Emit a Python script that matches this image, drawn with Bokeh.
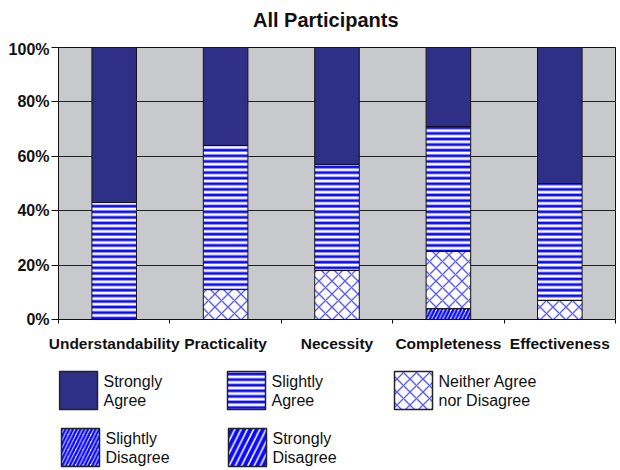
from bokeh.plotting import figure
from bokeh.models import (ColumnDataSource, FixedTicker, NumeralTickFormatter,
                          Range1d, Div)
from bokeh.layouts import column
from bokeh.transform import stack
from bokeh.core.properties import value
from bokeh.embed import file_html
from bokeh.resources import INLINE

# ---- data ----
title_text = "All Participants"
categories = ["Understandability", "Practicality", "Necessity",
              "Completeness", "Effectiveness"]
series_names = ["Strongly Disagree", "Slightly Disagree",
                "Neither Agree nor Disagree", "Slightly Agree", "Strongly Agree"]
strongly_disagree = [0, 0, 0, 0, 0]
slightly_disagree = [0, 0, 0, 4, 0]
neither = [0, 11, 18, 21, 7]
slightly_agree = [43, 53, 39, 46, 43]
strongly_agree = [57, 36, 43, 29, 50]
y_ticks = [0, 0.2, 0.4, 0.6, 0.8, 1.0]
legend_labels = ["Strongly\nAgree", "Slightly\nAgree", "Neither Agree\nnor Disagree",
                 "Slightly\nDisagree", "Strongly\nDisagree"]

FONT = "Liberation Sans"
BLUE = "#0A0AFF"

styles = {
    "Strongly Disagree": dict(fill_color="white", hatch_pattern="right_diagonal_line",
                              hatch_color=BLUE, hatch_scale=12.5, hatch_weight=4),
    "Slightly Disagree": dict(fill_color="white", hatch_pattern="right_diagonal_line",
                              hatch_color=BLUE, hatch_scale=7.5, hatch_weight=2.5),
    "Neither Agree nor Disagree": dict(fill_color="white", hatch_pattern="diagonal_cross",
                                       hatch_color="#5A5AFF", hatch_scale=13, hatch_weight=1.4),
    "Slightly Agree": dict(fill_color="white", hatch_pattern="horizontal_line",
                           hatch_color=BLUE, hatch_scale=5.6, hatch_weight=2.8),
    "Strongly Agree": dict(fill_color="#2E3087"),
}

series = [strongly_disagree, slightly_disagree, neither, slightly_agree, strongly_agree]
keys = ["s%d" % i for i in range(len(series))]
data = {"x": [i + 0.5 for i in range(len(categories))]}
for k, vals in zip(keys, series):
    data[k] = [v / 100 for v in vals]
src = ColumnDataSource(data)

W = 620
BL, BR = 58, 5          # frame borders (left/right)
TITLE_H = 40
H_MAIN = 359 - TITLE_H

title_div = Div(text=title_text, width=W - 253, height=TITLE_H, margin=(0, 0, 0, 253),
                styles={"font-family": FONT, "font-size": "20px", "font-weight": "bold",
                        "line-height": "40px", "color": "#111111", "white-space": "nowrap"})

p = figure(width=W, height=H_MAIN, output_backend="svg", toolbar_location=None,
           x_range=Range1d(0, len(categories)), y_range=Range1d(0, 1),
           min_border_left=BL, min_border_right=BR, min_border_top=47 - TITLE_H,
           min_border_bottom=40, background_fill_color="#C8C9CC",
           border_fill_color="white")

for i, (k, name) in enumerate(zip(keys, series_names)):
    bottom = stack(*keys[:i]) if i else 0
    p.vbar(x="x", width=0.4, bottom=bottom, top=stack(*keys[:i + 1]), source=src,
           line_color="#111111", line_width=1, **styles[name])

p.outline_line_color = "#111111"
p.outline_line_width = 1
p.xgrid.grid_line_color = None
p.ygrid.grid_line_color = "#222222"
p.ygrid.ticker = FixedTicker(ticks=y_ticks)

ya = p.yaxis[0]
ya.ticker = FixedTicker(ticks=y_ticks)
ya.formatter = NumeralTickFormatter(format="0%")
ya.major_label_text_font = FONT
ya.major_label_text_font_size = "16px"
ya.major_label_text_font_style = "bold"
ya.major_label_text_color = "#111111"
ya.major_tick_out = 7
ya.major_tick_in = 0
ya.minor_tick_line_color = None
ya.axis_line_color = "#111111"
ya.major_tick_line_color = "#111111"
ya.major_label_standoff = 2

xa = p.xaxis[0]
xa.ticker = FixedTicker(ticks=data["x"], minor_ticks=list(range(len(categories) + 1)))
xa.major_label_overrides = {x: c for x, c in zip(data["x"], categories)}
xa.major_label_text_font = FONT
xa.major_label_text_font_size = "15.5px"
xa.major_label_text_font_style = "bold"
xa.major_label_text_color = "#111111"
xa.major_tick_line_color = None
xa.major_tick_out = 0
xa.major_tick_in = 0
xa.minor_tick_out = 4
xa.minor_tick_in = 0
xa.minor_tick_line_color = "#111111"
xa.axis_line_color = "#111111"
xa.major_label_standoff = 11

# ---- legend panel (its frame is aligned with the chart frame) ----
leg = figure(width=W, height=470 - 359, output_backend="svg", toolbar_location=None,
             x_range=Range1d(BL, W - BR), y_range=Range1d(470, 359),
             min_border_left=BL, min_border_right=BR, min_border_top=0,
             min_border_bottom=0, x_axis_type=None, y_axis_type=None)
leg.outline_line_color = None
leg.grid.grid_line_color = None

order = ["Strongly Agree", "Slightly Agree", "Neither Agree nor Disagree",
         "Slightly Disagree", "Strongly Disagree"]
col_left = [[59, 227, 394], [61, 228]]
row_top = [371, 428]
box = 38
idx = 0
for r, lefts in enumerate(col_left):
    for left in lefts:
        name = order[idx]
        lab = legend_labels[idx]
        idx += 1
        leg.rect(x=[left + box / 2], y=[row_top[r] + box / 2], width=box, height=box,
                 line_color="#222222", line_width=1.5, **styles[name])
        for j, line in enumerate(lab.split("\n")):
            leg.text(x=[left + box + 6], y=[row_top[r] + 10 + j * 19], text=[line],
                     text_font=value(FONT), text_font_size="16px",
                     text_color="#111111", text_baseline="middle", text_align="left")

layout = column(title_div, p, leg, spacing=0)
open("out.html", "w").write(file_html(layout, INLINE))
